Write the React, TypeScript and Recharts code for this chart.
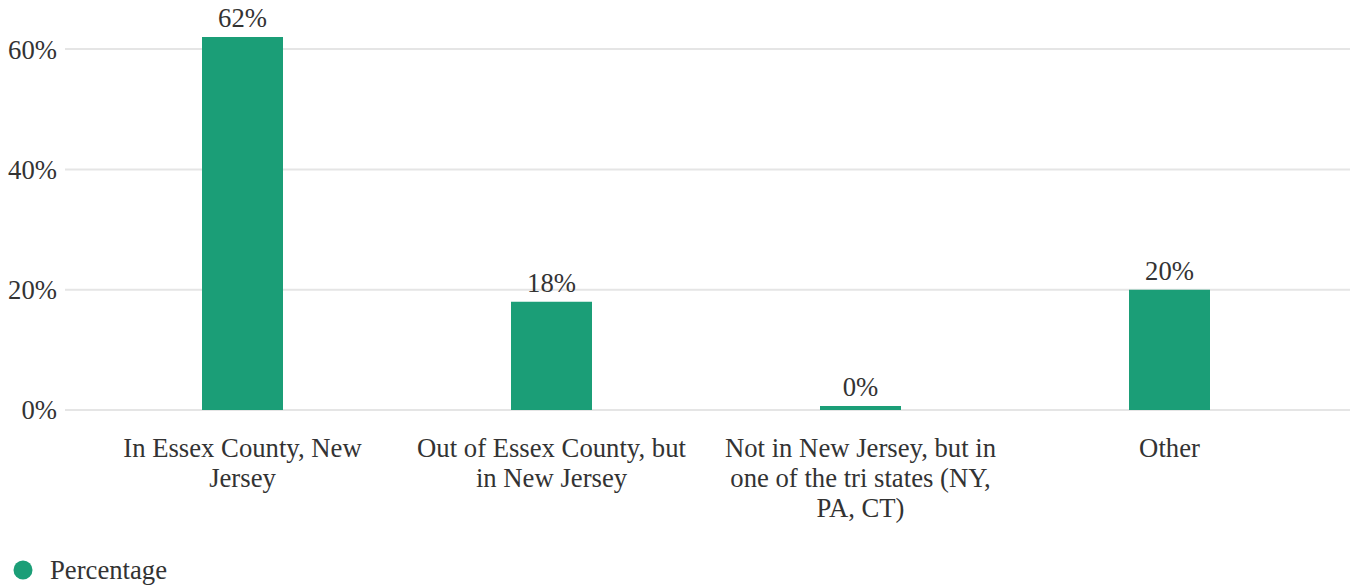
import React from 'react';
import {
  BarChart,
  Bar,
  XAxis,
  YAxis,
  CartesianGrid,
  LabelList,
  Legend,
} from 'recharts';

const categories = [
  'In Essex County, New Jersey',
  'Out of Essex County, but in New Jersey',
  'Not in New Jersey, but in one of the tri states (NY, PA, CT)',
  'Other',
];
const percentages = [62, 18, 0, 20];
const yTicks = [0, 20, 40, 60];

const FONT = '"Liberation Serif", serif';
const FS = 26.7;
const TEXT = '#333333';
const GREEN = '#1b9e77';

const data = categories.map((name, i) => ({ name, value: percentages[i] }));

let measureCtx: CanvasRenderingContext2D | null = null;
function wrap(label: string, maxWidth: number): string[] {
  if (!measureCtx) {
    measureCtx = document.createElement('canvas').getContext('2d');
  }
  const ctx = measureCtx!;
  ctx.font = `${FS}px ${FONT}`;
  const lines: string[] = [];
  let cur = '';
  label.split(' ').forEach((w) => {
    const next = cur ? cur + ' ' + w : w;
    if (cur && ctx.measureText(next).width > maxWidth) {
      lines.push(cur);
      cur = w;
    } else {
      cur = next;
    }
  });
  if (cur) lines.push(cur);
  return lines;
}

function CategoryTick(props: any) {
  const { x, y, payload } = props;
  const lines = wrap(String(payload.value), 285);
  return (
    <text
      x={x}
      y={y + 39}
      textAnchor="middle"
      fill={TEXT}
      style={{ fontFamily: FONT, fontSize: FS }}
    >
      {lines.map((l, i) => (
        <tspan key={i} x={x} dy={i === 0 ? 0 : 30}>
          {l}
        </tspan>
      ))}
    </text>
  );
}

function LegendContent() {
  return (
    <div style={{ display: 'flex', alignItems: 'center', height: 32, fontFamily: FONT, fontSize: FS, color: TEXT }}>
      <svg width={20} height={20} style={{ marginLeft: 13, marginRight: 17 }}>
        <circle cx={10} cy={10} r={9.5} fill={GREEN} />
      </svg>
      <span>Percentage</span>
    </div>
  );
}

export default function App() {
  return (
    <div style={{ position: 'absolute', left: 0, top: 0 }}>
      <BarChart
        width={1355}
        height={586}
        data={data}
        margin={{ top: 19, right: 5, bottom: 0, left: 0 }}
        barSize={81}
      >
        <CartesianGrid vertical={false} horizontalValues={yTicks} stroke="#e5e5e5" strokeWidth={2} />
        <XAxis
          dataKey="name"
          interval={0}
          height={144}
          axisLine={false}
          tickLine={false}
          padding={{ left: 23, right: 26 }}
          tick={<CategoryTick />}
        />
        <YAxis
          width={65}
          domain={[0, 65]}
          ticks={yTicks}
          axisLine={false}
          tickLine={false}
          tickFormatter={(v: number) => `${v}%`}
          tick={{ fill: TEXT, fontSize: FS, fontFamily: FONT }}
        />
        <Legend verticalAlign="bottom" align="left" content={<LegendContent />} />
        <Bar dataKey="value" fill={GREEN} minPointSize={4} isAnimationActive={false}>
          <LabelList
            dataKey="value"
            position="top"
            offset={10}
            formatter={(v: any) => `${v}%`}
            style={{ fill: TEXT, fontSize: FS, fontFamily: FONT }}
          />
        </Bar>
      </BarChart>
    </div>
  );
}
